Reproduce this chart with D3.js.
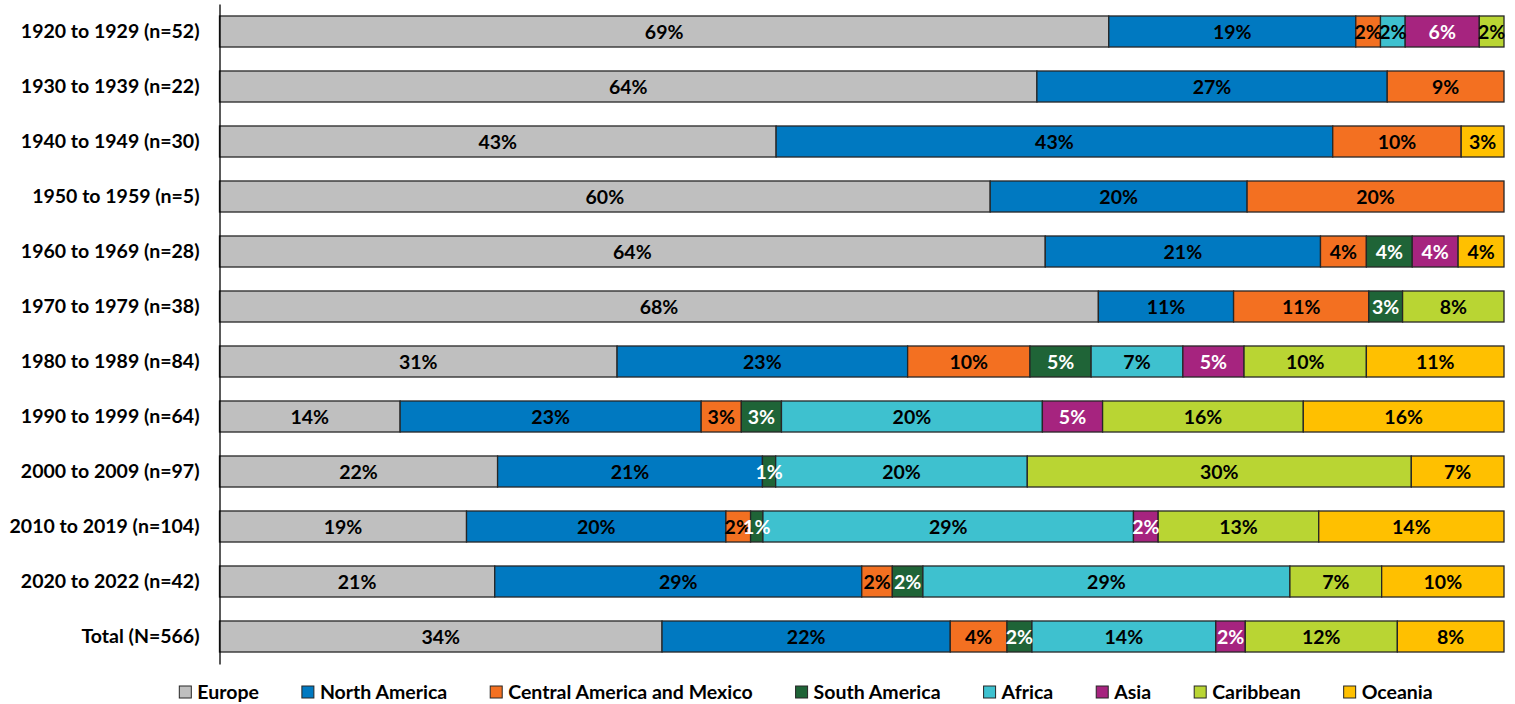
<!DOCTYPE html>
<html>
<head>
<meta charset="utf-8">
<script src="https://cdn.jsdelivr.net/npm/d3@7"></script>
<style>
  body { margin: 0; background: #fff; }
  text { font-family: Lato, "Open Sans", sans-serif; font-weight: bold; }
</style>
</head>
<body>
<div id="chart"></div>
<script>
var categories = [
	'1920 to 1929 (n=52)', '1930 to 1939 (n=22)', '1940 to 1949 (n=30)',
	'1950 to 1959 (n=5)', '1960 to 1969 (n=28)', '1970 to 1979 (n=38)',
	'1980 to 1989 (n=84)', '1990 to 1999 (n=64)', '2000 to 2009 (n=97)',
	'2010 to 2019 (n=104)', '2020 to 2022 (n=42)', 'Total (N=566)'
];
var series_names = ['Europe', 'North America', 'Central America and Mexico',
	'South America', 'Africa', 'Asia', 'Caribbean', 'Oceania'];

var europe          = [36, 14, 13, 3, 18, 26, 26,  9, 21, 20,  9, 195];
var north_america   = [10,  6, 13, 1,  6,  4, 19, 15, 20, 21, 12, 127];
var central_america = [ 1,  2,  3, 1,  1,  4,  8,  2,  0,  2,  1,  25];
var south_america   = [ 0,  0,  0, 0,  1,  1,  4,  2,  1,  1,  1,  11];
var africa          = [ 1,  0,  0, 0,  0,  0,  6, 13, 19, 30, 12,  81];
var asia            = [ 3,  0,  0, 0,  1,  0,  4,  3,  0,  2,  0,  13];
var caribbean       = [ 1,  0,  0, 0,  0,  3,  8, 10, 29, 13,  3,  67];
var oceania         = [ 0,  0,  1, 0,  1,  0,  9, 10,  7, 15,  4,  47];

var series_values = [europe, north_america, central_america, south_america,
	africa, asia, caribbean, oceania];

var colors      = ['#bfbfbf', '#0079c1', '#f37021', '#1f6437', '#3ec1cf', '#a6247f', '#b9d533', '#ffc000'];
var text_colors = ['#000', '#000', '#000', '#fff', '#000', '#fff', '#000', '#000'];

var width     = 1515;
var height    = 704;
var font_size = 19.5;

// rows for d3.stack
var rows = categories.map(function(c, i) {
	var r = { category: c };
	series_names.forEach(function(s, j) { r[s] = series_values[j][i]; });
	return r;
});

var stacked = d3.stack()
	.keys(series_names)
	.offset(d3.stackOffsetExpand)(rows);

// flat list of segments, rects first then labels on top
var segments = [];
stacked.forEach(function(s) {
	s.forEach(function(p) {
		if (p[1] - p[0] > 0) segments.push({ p: p, idx: s.index });
	});
});

var x_scale = d3.scaleLinear().domain([0, 1]).range([219.5, 1504]);
var y_scale = d3.scaleBand()
	.domain(categories)
	.range([4, 664])
	.paddingInner(0.436)
	.paddingOuter(0.218);

var svg = d3.select('#chart')
	.append('svg')
	.attr('width', width)
	.attr('height', height);

svg.append('g').selectAll('rect')
	.data(segments)
	.enter().append('rect')
	.attr('x', function(d) { return x_scale(d.p[0]); })
	.attr('y', function(d) { return y_scale(d.p.data.category); })
	.attr('width', function(d) { return x_scale(d.p[1]) - x_scale(d.p[0]); })
	.attr('height', y_scale.bandwidth())
	.attr('fill', function(d) { return colors[d.idx]; })
	.attr('stroke', '#262626')
	.attr('stroke-width', 1.3);

// percentage labels
svg.append('g').selectAll('text')
	.data(segments)
	.enter().append('text')
	.attr('x', function(d) { return (x_scale(d.p[0]) + x_scale(d.p[1])) / 2; })
	.attr('y', function(d) { return y_scale(d.p.data.category) + y_scale.bandwidth() / 2; })
	.attr('dy', '0.36em')
	.attr('text-anchor', 'middle')
	.attr('font-size', font_size)
	.attr('fill', function(d) { return text_colors[d.idx]; })
	.text(function(d) { return Math.round((d.p[1] - d.p[0]) * 100) + '%'; });

// the y-axis
var y_axis = d3.axisLeft(y_scale).tickSize(0).tickSizeOuter(0).tickPadding(20);
var ya = svg.append('g')
	.attr('transform', 'translate(219.5,0)')
	.call(y_axis);
ya.select('.domain').attr('stroke', '#000').attr('stroke-width', 1.3);
ya.selectAll('text')
	.attr('font-size', font_size)
	.attr('fill', '#000')
	.style('font-family', 'Lato, sans-serif')
	.style('font-weight', 'bold');

// legend
var legend = svg.append('g');
var lx = 0;
var gap = 43;
series_names.forEach(function(s, i) {
	var item = legend.append('g').attr('transform', 'translate(' + lx + ',0)');
	item.append('rect')
		.attr('x', 0).attr('y', -6)
		.attr('width', 12).attr('height', 12)
		.attr('fill', colors[i])
		.attr('stroke', '#262626')
		.attr('stroke-width', 1);
	var t = item.append('text')
		.attr('x', 18).attr('y', 0)
		.attr('dy', '0.36em')
		.attr('font-size', font_size)
		.text(s);
	lx += 18 + t.node().getComputedTextLength() + gap;
});
lx -= gap;
legend.attr('transform', 'translate(' + (806 - lx / 2) + ',692)');
</script>
</body>
</html>
